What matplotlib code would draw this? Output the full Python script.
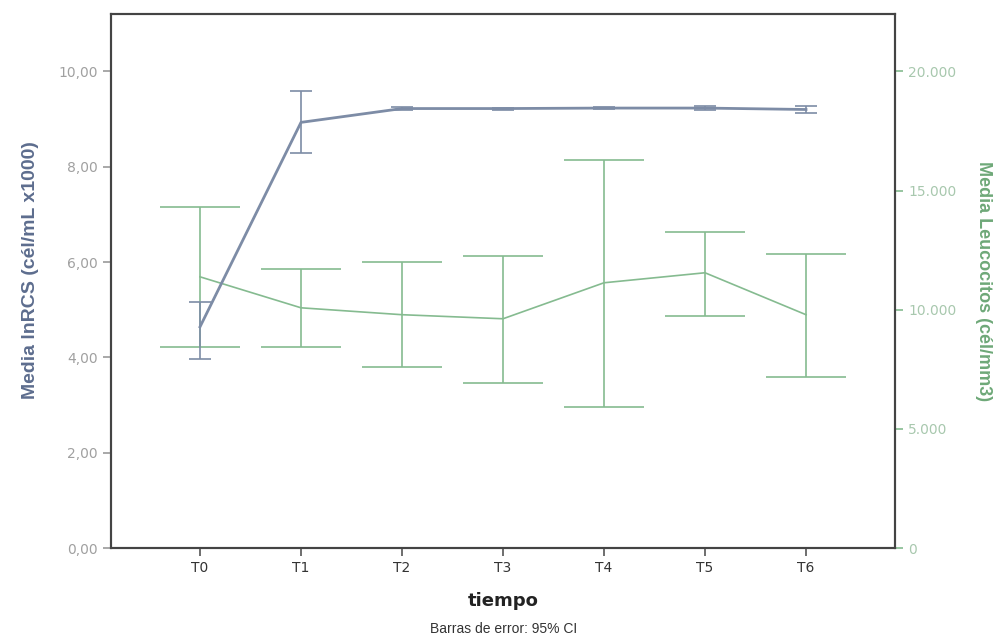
import matplotlib
matplotlib.use("Agg")
import matplotlib.pyplot as plt
from matplotlib.ticker import FuncFormatter

tiempo = ['T0', 'T1', 'T2', 'T3', 'T4', 'T5', 'T6']

# media lnRCS (cel/mL x1000) con IC 95%
rcs_media = [4.64, 8.93, 9.22, 9.22, 9.23, 9.23, 9.20]
rcs_inf = [3.97, 8.28, 9.19, 9.20, 9.21, 9.19, 9.12]
rcs_sup = [5.17, 9.58, 9.25, 9.24, 9.25, 9.27, 9.28]

# media leucocitos (cel/mm3) con IC 95%
leu_media = [11380, 10080, 9790, 9620, 11130, 11550, 9790]
leu_inf = [8450, 8450, 7600, 6930, 5920, 9750, 7190]
leu_sup = [14330, 11720, 12020, 12270, 16300, 13280, 12350]

azul = '#7d8ca6'
verde = '#85bb90'
gris = '#9a9a9a'

fig = plt.figure(figsize=(10.01, 6.44), dpi=100)
ax = fig.add_axes([0.111, 0.149, 0.783, 0.829])
ax2 = ax.twinx()

x = list(range(len(tiempo)))

# leucocitos
err_leu = [[m - l for m, l in zip(leu_media, leu_inf)],
           [s - m for m, s in zip(leu_media, leu_sup)]]
ax2.errorbar(x, leu_media, yerr=err_leu, color=verde, lw=1.2,
             elinewidth=1.2, capsize=29, capthick=1.2)

# lnRCS
err_rcs = [[m - l for m, l in zip(rcs_media, rcs_inf)],
           [s - m for m, s in zip(rcs_media, rcs_sup)]]
ax.errorbar(x, rcs_media, yerr=err_rcs, color=azul, lw=2,
            elinewidth=1.2, capsize=8, capthick=1.2, zorder=5)
ax.set_zorder(ax2.get_zorder() + 1)
ax.patch.set_visible(False)

ax.set_xlim(-0.88, 6.88)
ax.set_ylim(0, 11.2)
ax2.set_ylim(0, 22400)
ax.set_xticks(x)
ax.set_xticklabels(tiempo, fontsize=10, color='#333333')
ax.set_yticks([0, 2, 4, 6, 8, 10])
ax.yaxis.set_major_formatter(FuncFormatter(lambda v, p: f'{v:.2f}'.replace('.', ',')))
ax2.set_yticks([0, 5000, 10000, 15000, 20000])
ax2.yaxis.set_major_formatter(FuncFormatter(lambda v, p: f'{int(v):,}'.replace(',', '.')))

ax.tick_params(axis='y', colors=gris, labelsize=10, length=6, width=1.2)
ax.tick_params(axis='x', length=6, width=1.2, color='#555555')
ax2.tick_params(axis='y', colors=verde, labelsize=10, length=6, width=1.2)
for lab in ax.get_yticklabels():
    lab.set_color('#a0a0a0')
for lab in ax2.get_yticklabels():
    lab.set_color('#a8c8ae')

for a in (ax, ax2):
    for sp in a.spines.values():
        sp.set_color('#444444')
        sp.set_linewidth(1.5)

fuente = ['Liberation Sans', 'DejaVu Sans']
ax.set_ylabel('Media lnRCS (cél/mL x1000)', color='#5d6d8e', fontsize=14,
              fontweight='bold', family=fuente, labelpad=10)
ax.yaxis.set_label_coords(-0.092, 0.52)
ax2.set_ylabel('Media Leucocitos (cél/mm3)', color='#6ea878', fontsize=13,
               fontweight='bold', family=fuente, rotation=270, labelpad=26)
ax.set_xlabel('tiempo', fontsize=13, fontweight='bold', color='#222222', labelpad=12)

fig.text(0.503, 0.017, 'Barras de error: 95% CI', ha='center', fontsize=10,
         color='#333333', family=fuente)

fig.savefig('out.png', dpi=100, facecolor='white')
